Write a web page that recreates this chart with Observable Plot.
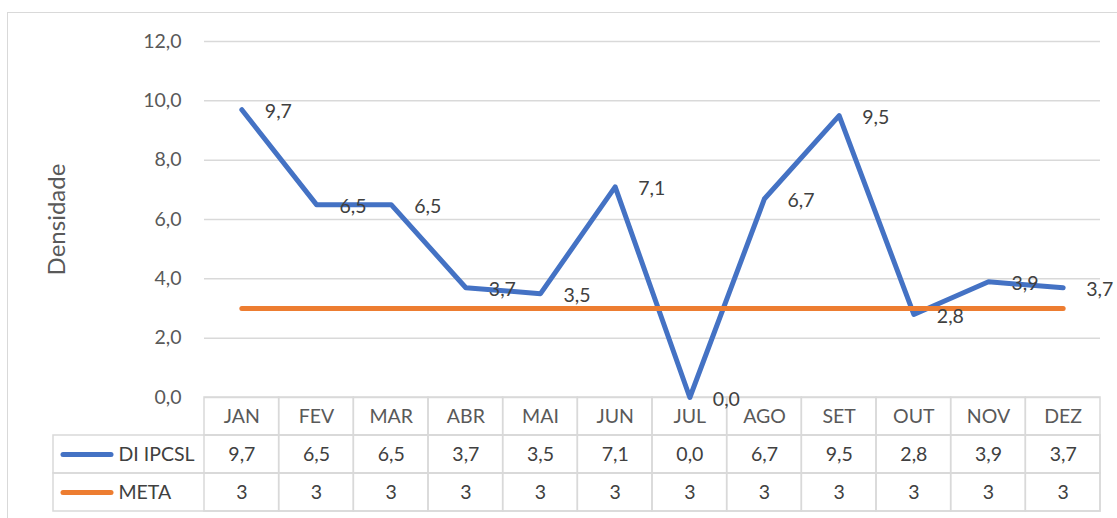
<!DOCTYPE html>
<html>
<head>
<meta charset="utf-8">
<script src="https://cdn.jsdelivr.net/npm/d3@7"></script>
<script src="https://cdn.jsdelivr.net/npm/@observablehq/plot@0.6"></script>
<style>
  html, body { margin: 0; padding: 0; background: #fff; }
  #wrap { position: relative; width: 1117px; height: 518px; overflow: hidden; background: #fff; }
  #border { position: absolute; left: 7px; top: 12px; width: 1200px; height: 600px; border: 1.5px solid #D9D9D9; box-sizing: border-box; }
  #wrap svg { position: absolute; left: 0; top: 0; }
</style>
</head>
<body>
<div id="wrap"><div id="border"></div></div>
<script>
// ---- data ----
const months = ["JAN","FEV","MAR","ABR","MAI","JUN","JUL","AGO","SET","OUT","NOV","DEZ"];
const ipcsl  = [9.7, 6.5, 6.5, 3.7, 3.5, 7.1, 0.0, 6.7, 9.5, 2.8, 3.9, 3.7];
const meta   = [3, 3, 3, 3, 3, 3, 3, 3, 3, 3, 3, 3];
const seriesNames = ["DI IPCSL", "META"];
const seriesColors = ["#4472C4", "#ED7D31"];
const yTicks = [0, 2, 4, 6, 8, 10, 12];
const yTitle = "Densidade";

// ---- derived tables ----
const fmt1 = v => v.toFixed(1).replace(".", ",");
const ipcslData = months.map((m, i) => ({month: m, value: ipcsl[i], series: seriesNames[0]}));
const metaData  = months.map((m, i) => ({month: m, value: meta[i], series: seriesNames[1]}));
const rowKeys = ["header", ...seriesNames];
const gridCells = rowKeys.flatMap(r => months.map(m => ({month: m, row: r})));
const tableValues = [
  ...ipcslData.map(d => ({month: d.month, row: d.series, label: fmt1(d.value)})),
  ...metaData.map(d => ({month: d.month, row: d.series, label: String(d.value)}))
];

const FONT = "Lato, 'Open Sans', sans-serif";
const color = {domain: seriesNames, range: seriesColors};

// ---- chart ----
const chart = Plot.plot({
  width: 1117,
  height: 518,
  marginTop: 41,
  marginBottom: 121,
  marginLeft: 204,
  marginRight: 17,
  style: {background: "transparent", overflow: "visible", fontFamily: FONT, fontSize: "19.5px", color: "#595959"},
  color,
  x: {type: "band", domain: months, padding: 0, round: false, axis: null},
  y: {domain: [0, 12], ticks: yTicks, tickSize: 0, tickPadding: 23, tickFormat: fmt1, label: null},
  marks: [
    Plot.ruleY(yTicks, {stroke: "#D9D9D9", strokeWidth: 1.5}),
    Plot.text([yTitle], {text: d => d, frameAnchor: "left", textAnchor: "middle", rotate: -90, dx: -147, fontSize: 24, fill: "#595959"}),
    Plot.line(ipcslData, {x: "month", y: "value", stroke: "series", strokeWidth: 5, strokeLinejoin: "round", strokeLinecap: "round"}),
    Plot.line(metaData, {x: "month", y: "value", stroke: "series", strokeWidth: 5, strokeLinejoin: "round", strokeLinecap: "round"}),
    Plot.text(ipcslData, {x: "month", y: "value", text: d => fmt1(d.value), dx: 23, dy: 2, textAnchor: "start", fill: "#404040"})
  ]
});

// ---- data table ----
const lineSymbol = {draw(ctx) { ctx.moveTo(-24, 0); ctx.lineTo(24, 0); }};
const table = Plot.plot({
  width: 1117,
  height: 518,
  marginTop: 397,
  marginBottom: 7,
  marginLeft: 53,
  marginRight: 17,
  style: {background: "transparent", overflow: "visible", fontFamily: FONT, fontSize: "19.5px", color: "#404040"},
  color,
  x: {type: "band", domain: months, range: [204, 1100], padding: 0, round: false, axis: null},
  y: {type: "band", domain: rowKeys, padding: 0, round: false, axis: null},
  marks: [
    Plot.cell(seriesNames, {y: d => d, fill: "none", stroke: "#D9D9D9", strokeWidth: 1.5}),
    Plot.cell(gridCells, {x: "month", y: "row", fill: "none", stroke: "#D9D9D9", strokeWidth: 1.5}),
    Plot.text(months, {x: d => d, y: () => "header", text: d => d, fill: "#595959"}),
    Plot.text(tableValues, {x: "month", y: "row", text: "label", fill: "#404040"}),
    Plot.dot(seriesNames, {y: d => d, frameAnchor: "left", dx: 33.5, symbol: lineSymbol, r: 3, fill: "none", stroke: d => d, strokeWidth: 5, strokeLinecap: "round"}),
    Plot.text(seriesNames, {y: d => d, text: d => d, frameAnchor: "left", dx: 65, textAnchor: "start", fill: "#404040"})
  ]
});

const wrap = document.getElementById("wrap");
wrap.appendChild(table);
wrap.appendChild(chart);
</script>
</body>
</html>
